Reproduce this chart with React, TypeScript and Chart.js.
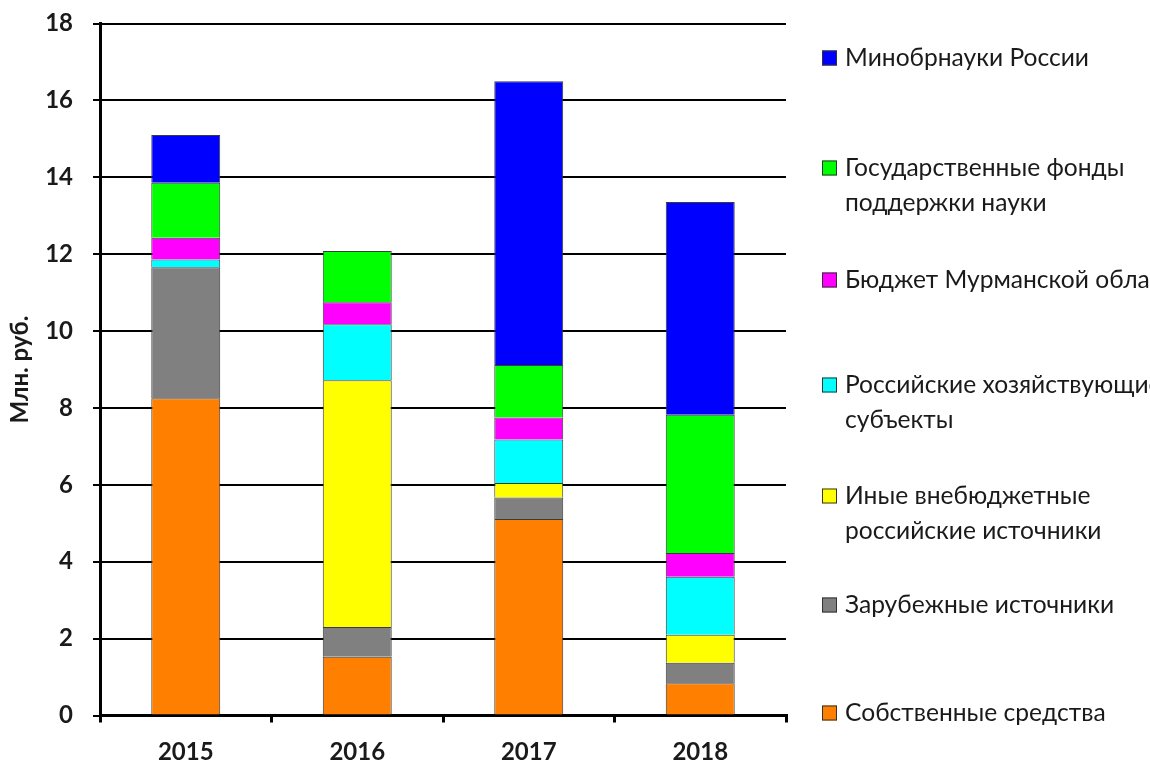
import React, { useEffect, useRef } from "react";
import { Chart, registerables } from "chart.js";

Chart.register(...registerables);

const years = ["2015", "2016", "2017", "2018"];

const ownFunds = [8.25, 1.53, 5.11, 0.84];
const foreignSources = [3.41, 0.77, 0.56, 0.53];
const otherExtraBudget = [0, 6.42, 0.38, 0.73];
const businessEntities = [0.2, 1.46, 1.13, 1.51];
const murmanskBudget = [0.57, 0.57, 0.57, 0.62];
const stateFunds = [1.43, 1.33, 1.37, 3.59];
const ministry = [1.24, 0, 7.38, 5.54];

const yTicks = [0, 2, 4, 6, 8, 10, 12, 14, 16, 18];

const seriesLabels = [
  "Собственные средства",
  "Зарубежные источники",
  "Иные внебюджетные российские источники",
  "Российские хозяйствующие субъекты",
  "Бюджет Мурманской области",
  "Государственные фонды поддержки науки",
  "Минобрнауки России",
];

const legendLines = [
  ["Собственные средства"],
  ["Зарубежные источники"],
  ["Иные внебюджетные", "российские источники"],
  ["Российские хозяйствующие", "субъекты"],
  ["Бюджет Мурманской области"],
  ["Государственные фонды", "поддержки науки"],
  ["Минобрнауки России"],
];

const seriesColors = ["#FF8000", "#808080", "#FFFF00", "#00FFFF", "#FF00FF", "#00FF00", "#0000FF"];

const FONT = "Lato, 'Noto Sans', sans-serif";

export default function App() {
  const ref = useRef<HTMLCanvasElement | null>(null);

  useEffect(() => {
    document.body.style.margin = "0";
    const canvas = ref.current;
    if (!canvas) return;
    const values = [ownFunds, foreignSources, otherExtraBudget, businessEntities, murmanskBudget, stateFunds, ministry];

    const legendPlugin = {
      id: "sideLegend",
      afterDraw(chart: any) {
        const ctx = chart.ctx;
        const tops = [713, 605, 496, 385, 280, 168, 58];
        ctx.save();
        ctx.font = `24.6px ${FONT}`;
        ctx.textBaseline = "middle";
        ctx.textAlign = "left";
        for (let i = 0; i < legendLines.length; i++) {
          const y = tops[i];
          ctx.fillStyle = seriesColors[i];
          ctx.fillRect(822, y - 7.5, 15, 15);
          ctx.strokeStyle = "#333";
          ctx.lineWidth = 1;
          ctx.strokeRect(822.5, y - 7, 14, 14);
          ctx.fillStyle = "#1a1a1a";
          legendLines[i].forEach((line, j) => {
            ctx.fillText(line, 845, y + j * 35);
          });
        }
        ctx.restore();
      },
    };

    const chart = new Chart(canvas, {
      type: "bar",
      data: {
        labels: years,
        datasets: values.map((v, i) => ({
          label: seriesLabels[i],
          data: v,
          backgroundColor: seriesColors[i],
          borderColor: "#3a3a3a",
          borderWidth: 1,
          barPercentage: 0.402,
          categoryPercentage: 1,
        })),
      },
      options: {
        animation: false,
        responsive: false,
        maintainAspectRatio: false,
        layout: { padding: { left: 0, right: 364, top: 23.5, bottom: 0 } },
        plugins: {
          legend: { display: false },
          tooltip: { enabled: false },
        },
        scales: {
          x: {
            stacked: true,
            afterFit(scale: any) {
              scale.height = 44.5;
              scale.paddingLeft = 0;
              scale.paddingRight = 0;
            },
            grid: {
              offset: true,
              drawOnChartArea: false,
              drawTicks: true,
              tickLength: 7,
              color: "#000",
              lineWidth: 3,
            },
            border: { display: true, color: "#000", width: 3 },
            ticks: {
              color: "#1a1a1a",
              font: { family: FONT, size: 24, weight: "bold" },
              padding: 15,
            },
          },
          y: {
            stacked: true,
            min: 0,
            max: 18,
            afterFit(scale: any) {
              scale.width = 100;
              scale.paddingTop = 0;
              scale.paddingBottom = 0;
            },
            afterBuildTicks(scale: any) {
              scale.ticks = yTicks.map((v) => ({ value: v }));
            },
            grid: {
              color: "#000",
              lineWidth: 2,
              drawTicks: true,
              tickLength: 7,
            },
            border: { display: true, color: "#000", width: 3 },
            ticks: {
              color: "#1a1a1a",
              font: { family: FONT, size: 24, weight: "bold" },
              padding: 20,
            },
            title: {
              display: true,
              text: "Млн. руб.",
              color: "#1a1a1a",
              font: { family: FONT, size: 24, weight: "bold" },
              padding: { top: 6, bottom: 0 },
            },
          },
        },
      },
      plugins: [legendPlugin],
    });
    return () => chart.destroy();
  }, []);

  return (
    <div style={{ width: 1150, height: 760, background: "#fff" }}>
      <canvas ref={ref} width={1150} height={760} style={{ display: "block" }} />
    </div>
  );
}
